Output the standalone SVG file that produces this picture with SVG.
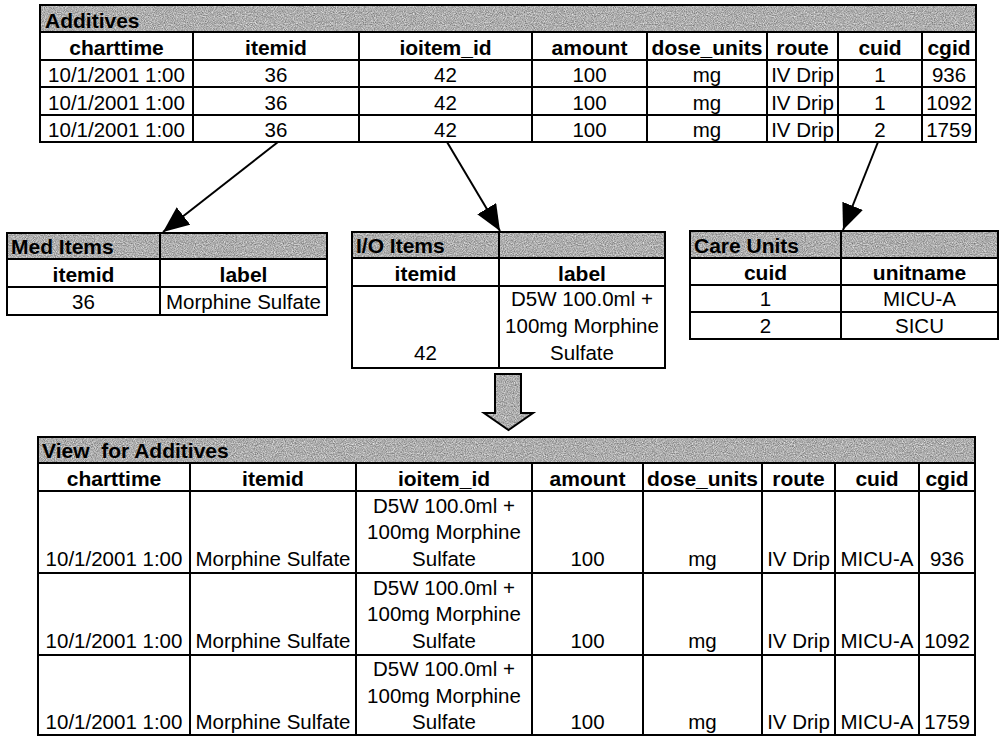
<svg xmlns="http://www.w3.org/2000/svg" width="1000" height="736" viewBox="0 0 1000 736">
<defs>
<filter id="grain" x="0" y="0" width="1" height="1" color-interpolation-filters="sRGB">
<feTurbulence type="fractalNoise" baseFrequency="0.9" numOctaves="2" seed="7"/>
<feColorMatrix type="matrix" values="0.6 0 0 0 0.38  0.6 0 0 0 0.38  0.6 0 0 0 0.38  0 0 0 0 1"/>
<feComposite in2="SourceGraphic" operator="in"/>
</filter>
<marker id="ah" markerUnits="userSpaceOnUse" markerWidth="28" markerHeight="24" refX="26" refY="11" orient="auto">
<path d="M0,0 L26,11 L0,22 z" fill="#000"/>
</marker>
<style>
.bg{fill:#fff;stroke:none}
.bar{fill:#aaa;stroke:none}
.frame{fill:none;stroke:#000;stroke-width:2}
.ln{fill:none;stroke:#000;stroke-width:2}
text{font-family:"Liberation Sans",Arial,sans-serif;fill:#000}
.t{font-size:20.5px;text-anchor:middle}
.h{font-size:21px;font-weight:bold;text-anchor:middle}
.ti{font-size:21px;font-weight:bold;text-anchor:start}
.con{fill:none;stroke:#000;stroke-width:2;marker-end:url(#ah)}
</style>
</defs>
<rect x="0" y="0" width="1000" height="736" fill="#fff"/>

<g id="additives">
<rect class="bg" x="40" y="5" width="936" height="137"/>
<rect class="bar" x="40" y="5" width="936" height="27" filter="url(#grain)"/>
<path class="ln" d="M40 32H976M40 60H976M40 87H976M40 115H976M193 32V142M359 32V142M532 32V142M647 32V142M767 32V142M838 32V142M922 32V142"/>
<rect class="frame" x="40" y="5" width="936" height="137"/>
<text class="ti" x="45" y="28">Additives</text>
<text class="h" x="116.5" y="55">charttime</text>
<text class="h" x="276" y="55">itemid</text>
<text class="h" x="445.5" y="55">ioitem_id</text>
<text class="h" x="589.5" y="55">amount</text>
<text class="h" x="707" y="55">dose_units</text>
<text class="h" x="802.5" y="55">route</text>
<text class="h" x="880" y="55">cuid</text>
<text class="h" x="949" y="55">cgid</text>
<text class="t" x="116.5" y="82">10/1/2001 1:00</text>
<text class="t" x="276" y="82">36</text>
<text class="t" x="445.5" y="82">42</text>
<text class="t" x="589.5" y="82">100</text>
<text class="t" x="707" y="82">mg</text>
<text class="t" x="802.5" y="82">IV Drip</text>
<text class="t" x="880" y="82">1</text>
<text class="t" x="949" y="82">936</text>
<text class="t" x="116.5" y="109.5">10/1/2001 1:00</text>
<text class="t" x="276" y="109.5">36</text>
<text class="t" x="445.5" y="109.5">42</text>
<text class="t" x="589.5" y="109.5">100</text>
<text class="t" x="707" y="109.5">mg</text>
<text class="t" x="802.5" y="109.5">IV Drip</text>
<text class="t" x="880" y="109.5">1</text>
<text class="t" x="949" y="109.5">1092</text>
<text class="t" x="116.5" y="137">10/1/2001 1:00</text>
<text class="t" x="276" y="137">36</text>
<text class="t" x="445.5" y="137">42</text>
<text class="t" x="589.5" y="137">100</text>
<text class="t" x="707" y="137">mg</text>
<text class="t" x="802.5" y="137">IV Drip</text>
<text class="t" x="880" y="137">2</text>
<text class="t" x="949" y="137">1759</text>
</g>

<g id="med-items">
<rect class="bg" x="7" y="233" width="320" height="82"/>
<rect class="bar" x="7" y="233" width="320" height="26" filter="url(#grain)"/>
<path class="ln" d="M7 259H327M7 287H327M160 233V315"/>
<rect class="frame" x="7" y="233" width="320" height="82"/>
<text class="ti" x="11" y="254">Med Items</text>
<text class="h" x="83.5" y="282">itemid</text>
<text class="h" x="243.5" y="282">label</text>
<text class="t" x="83.5" y="309">36</text>
<text class="t" x="243.5" y="309">Morphine Sulfate</text>
</g>

<g id="io-items">
<rect class="bg" x="352" y="232" width="313" height="136"/>
<rect class="bar" x="352" y="232" width="313" height="26" filter="url(#grain)"/>
<path class="ln" d="M352 258H665M352 286H665M499 232V368"/>
<rect class="frame" x="352" y="232" width="313" height="136"/>
<text class="ti" x="356" y="253">I/O Items</text>
<text class="h" x="425.5" y="281">itemid</text>
<text class="h" x="582" y="281">label</text>
<text class="t" x="582" y="306">D5W 100.0ml +</text>
<text class="t" x="582" y="333">100mg Morphine</text>
<text class="t" x="582" y="360">Sulfate</text>
<text class="t" x="425.5" y="360">42</text>
</g>

<g id="care-units">
<rect class="bg" x="690" y="231" width="308" height="108"/>
<rect class="bar" x="690" y="231" width="308" height="27" filter="url(#grain)"/>
<path class="ln" d="M690 258H998M690 285H998M690 312H998M841 231V339"/>
<rect class="frame" x="690" y="231" width="308" height="108"/>
<text class="ti" x="694" y="253">Care Units</text>
<text class="h" x="765.5" y="280">cuid</text>
<text class="h" x="919.5" y="280">unitname</text>
<text class="t" x="765.5" y="306">1</text>
<text class="t" x="919.5" y="306">MICU-A</text>
<text class="t" x="765.5" y="333">2</text>
<text class="t" x="919.5" y="333">SICU</text>
</g>

<g id="view-additives">
<rect class="bg" x="38" y="437" width="937" height="298"/>
<rect class="bar" x="38" y="437" width="937" height="26" filter="url(#grain)"/>
<path class="ln" d="M38 463H975M38 491H975M38 573H975M38 655H975M190 463V735M356 463V735M532 463V735M643 463V735M762 463V735M835 463V735M919 463V735"/>
<rect class="frame" x="38" y="437" width="937" height="298"/>
<text class="ti" x="42" y="458" xml:space="preserve">View  for Additives</text>
<text class="h" x="114" y="486">charttime</text>
<text class="h" x="273" y="486">itemid</text>
<text class="h" x="444" y="486">ioitem_id</text>
<text class="h" x="587.5" y="486">amount</text>
<text class="h" x="702.5" y="486">dose_units</text>
<text class="h" x="798.5" y="486">route</text>
<text class="h" x="877" y="486">cuid</text>
<text class="h" x="947" y="486">cgid</text>

<text class="t" x="444" y="512.5">D5W 100.0ml +</text>
<text class="t" x="444" y="539">100mg Morphine</text>
<text class="t" x="444" y="566">Sulfate</text>
<text class="t" x="114" y="566">10/1/2001 1:00</text>
<text class="t" x="273" y="566">Morphine Sulfate</text>
<text class="t" x="587.5" y="566">100</text>
<text class="t" x="702.5" y="566">mg</text>
<text class="t" x="798.5" y="566">IV Drip</text>
<text class="t" x="877" y="566">MICU-A</text>
<text class="t" x="947" y="566">936</text>

<text class="t" x="444" y="594.5">D5W 100.0ml +</text>
<text class="t" x="444" y="621">100mg Morphine</text>
<text class="t" x="444" y="648">Sulfate</text>
<text class="t" x="114" y="648">10/1/2001 1:00</text>
<text class="t" x="273" y="648">Morphine Sulfate</text>
<text class="t" x="587.5" y="648">100</text>
<text class="t" x="702.5" y="648">mg</text>
<text class="t" x="798.5" y="648">IV Drip</text>
<text class="t" x="877" y="648">MICU-A</text>
<text class="t" x="947" y="648">1092</text>

<text class="t" x="444" y="676">D5W 100.0ml +</text>
<text class="t" x="444" y="702.5">100mg Morphine</text>
<text class="t" x="444" y="729">Sulfate</text>
<text class="t" x="114" y="729">10/1/2001 1:00</text>
<text class="t" x="273" y="729">Morphine Sulfate</text>
<text class="t" x="587.5" y="729">100</text>
<text class="t" x="702.5" y="729">mg</text>
<text class="t" x="798.5" y="729">IV Drip</text>
<text class="t" x="877" y="729">MICU-A</text>
<text class="t" x="947" y="729">1759</text>
</g>

<g id="connectors">
<path class="con" d="M278 142L163 232"/>
<path class="con" d="M447 142L500 231"/>
<path class="con" d="M878 142L843 230"/>
<path class="bar" d="M495 374H521V413H533L508.5 430L484 413H495Z" filter="url(#grain)"/>
<path class="frame" d="M495 374H521V413H533L508.5 430L484 413H495Z" stroke-linejoin="miter"/>
</g>
</svg>
